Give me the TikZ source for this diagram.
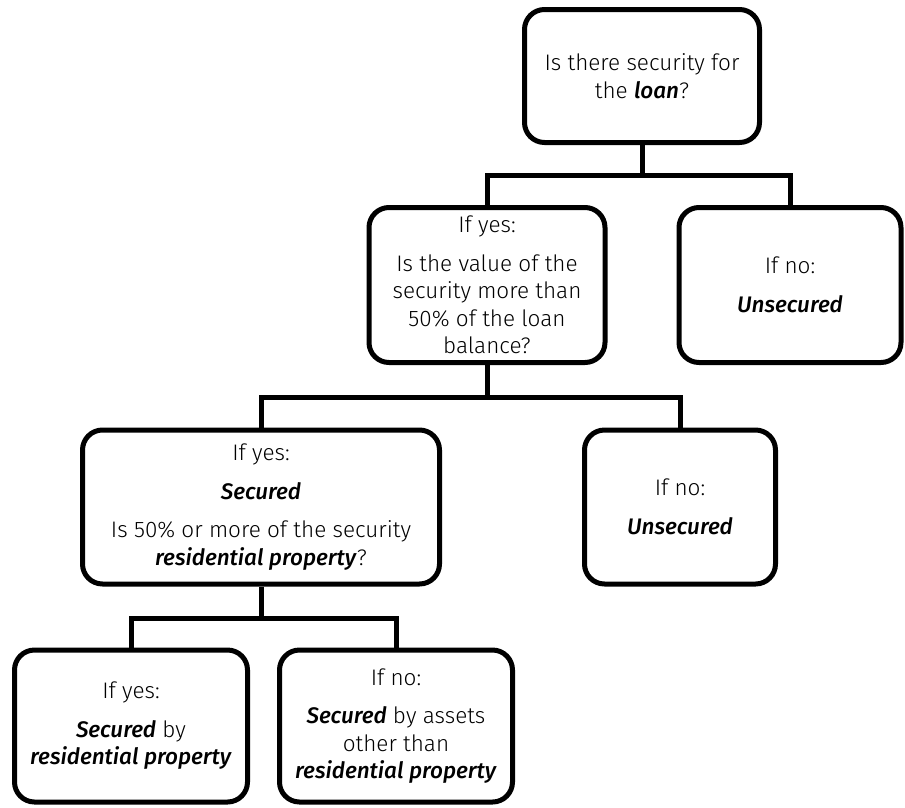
\documentclass[tikz,border=0pt]{standalone}
\usepackage{fontspec}
\setmainfont{Fira Sans}[UprightFont=* Light, ItalicFont=* Light Italic, BoldFont=* Medium, BoldItalicFont=* Medium Italic]
\newcommand{\bi}[1]{\textbf{\textit{#1}}}
\begin{document}
\begin{tikzpicture}[x=1pt,y=-1pt,
  box/.style={draw, line width=5pt, rounded corners=20pt, align=center, inner sep=0pt,
    font=\fontsize{22.5}{27.5}\selectfont},
  conn/.style={line width=5pt}]
\useasboundingbox (0,0) rectangle (905,807);
\newcommand{\gap}{\\[11pt]}
\node[box, minimum width=235, minimum height=133] (top) at (642,76)
  {Is there security for\\the \bi{loan}?};
\node[box, minimum width=236, minimum height=155] (mid) at (487,285)
  {If yes:\gap Is the value of the\\security more than\\50\% of the loan\\balance?};
\node[box, minimum width=222, minimum height=155] (no1) at (790,285)
  {If no:\gap\bi{Unsecured}};
\node[box, minimum width=357, minimum height=154] (sec) at (261,507)
  {If yes:\gap\bi{Secured}\gap Is 50\% or more of the security\\\bi{residential property}?};
\node[box, minimum width=191, minimum height=154] (no2) at (680,507)
  {If no:\gap\bi{Unsecured}};
\node[box, minimum width=233, minimum height=152] (res) at (131,726)
  {If yes:\gap\bi{Secured} by\\\bi{residential property}};
\node[box, minimum width=233, minimum height=152] (oth) at (396,726)
  {If no:\gap\bi{Secured} by assets\\other than\\\bi{residential property}};
\coordinate (j1) at (642,175);
\coordinate (j2) at (487,397);
\coordinate (j3) at (261,618);
\draw[conn] (top.south) -- (j1);
\draw[conn] (mid.north) |- (j1) -| (no1.north);
\draw[conn] (mid.south) -- (j2);
\draw[conn] (sec.north) |- (j2) -| (no2.north);
\draw[conn] (sec.south) -- (j3);
\draw[conn] (res.north) |- (j3) -| (oth.north);
\end{tikzpicture}
\end{document}
